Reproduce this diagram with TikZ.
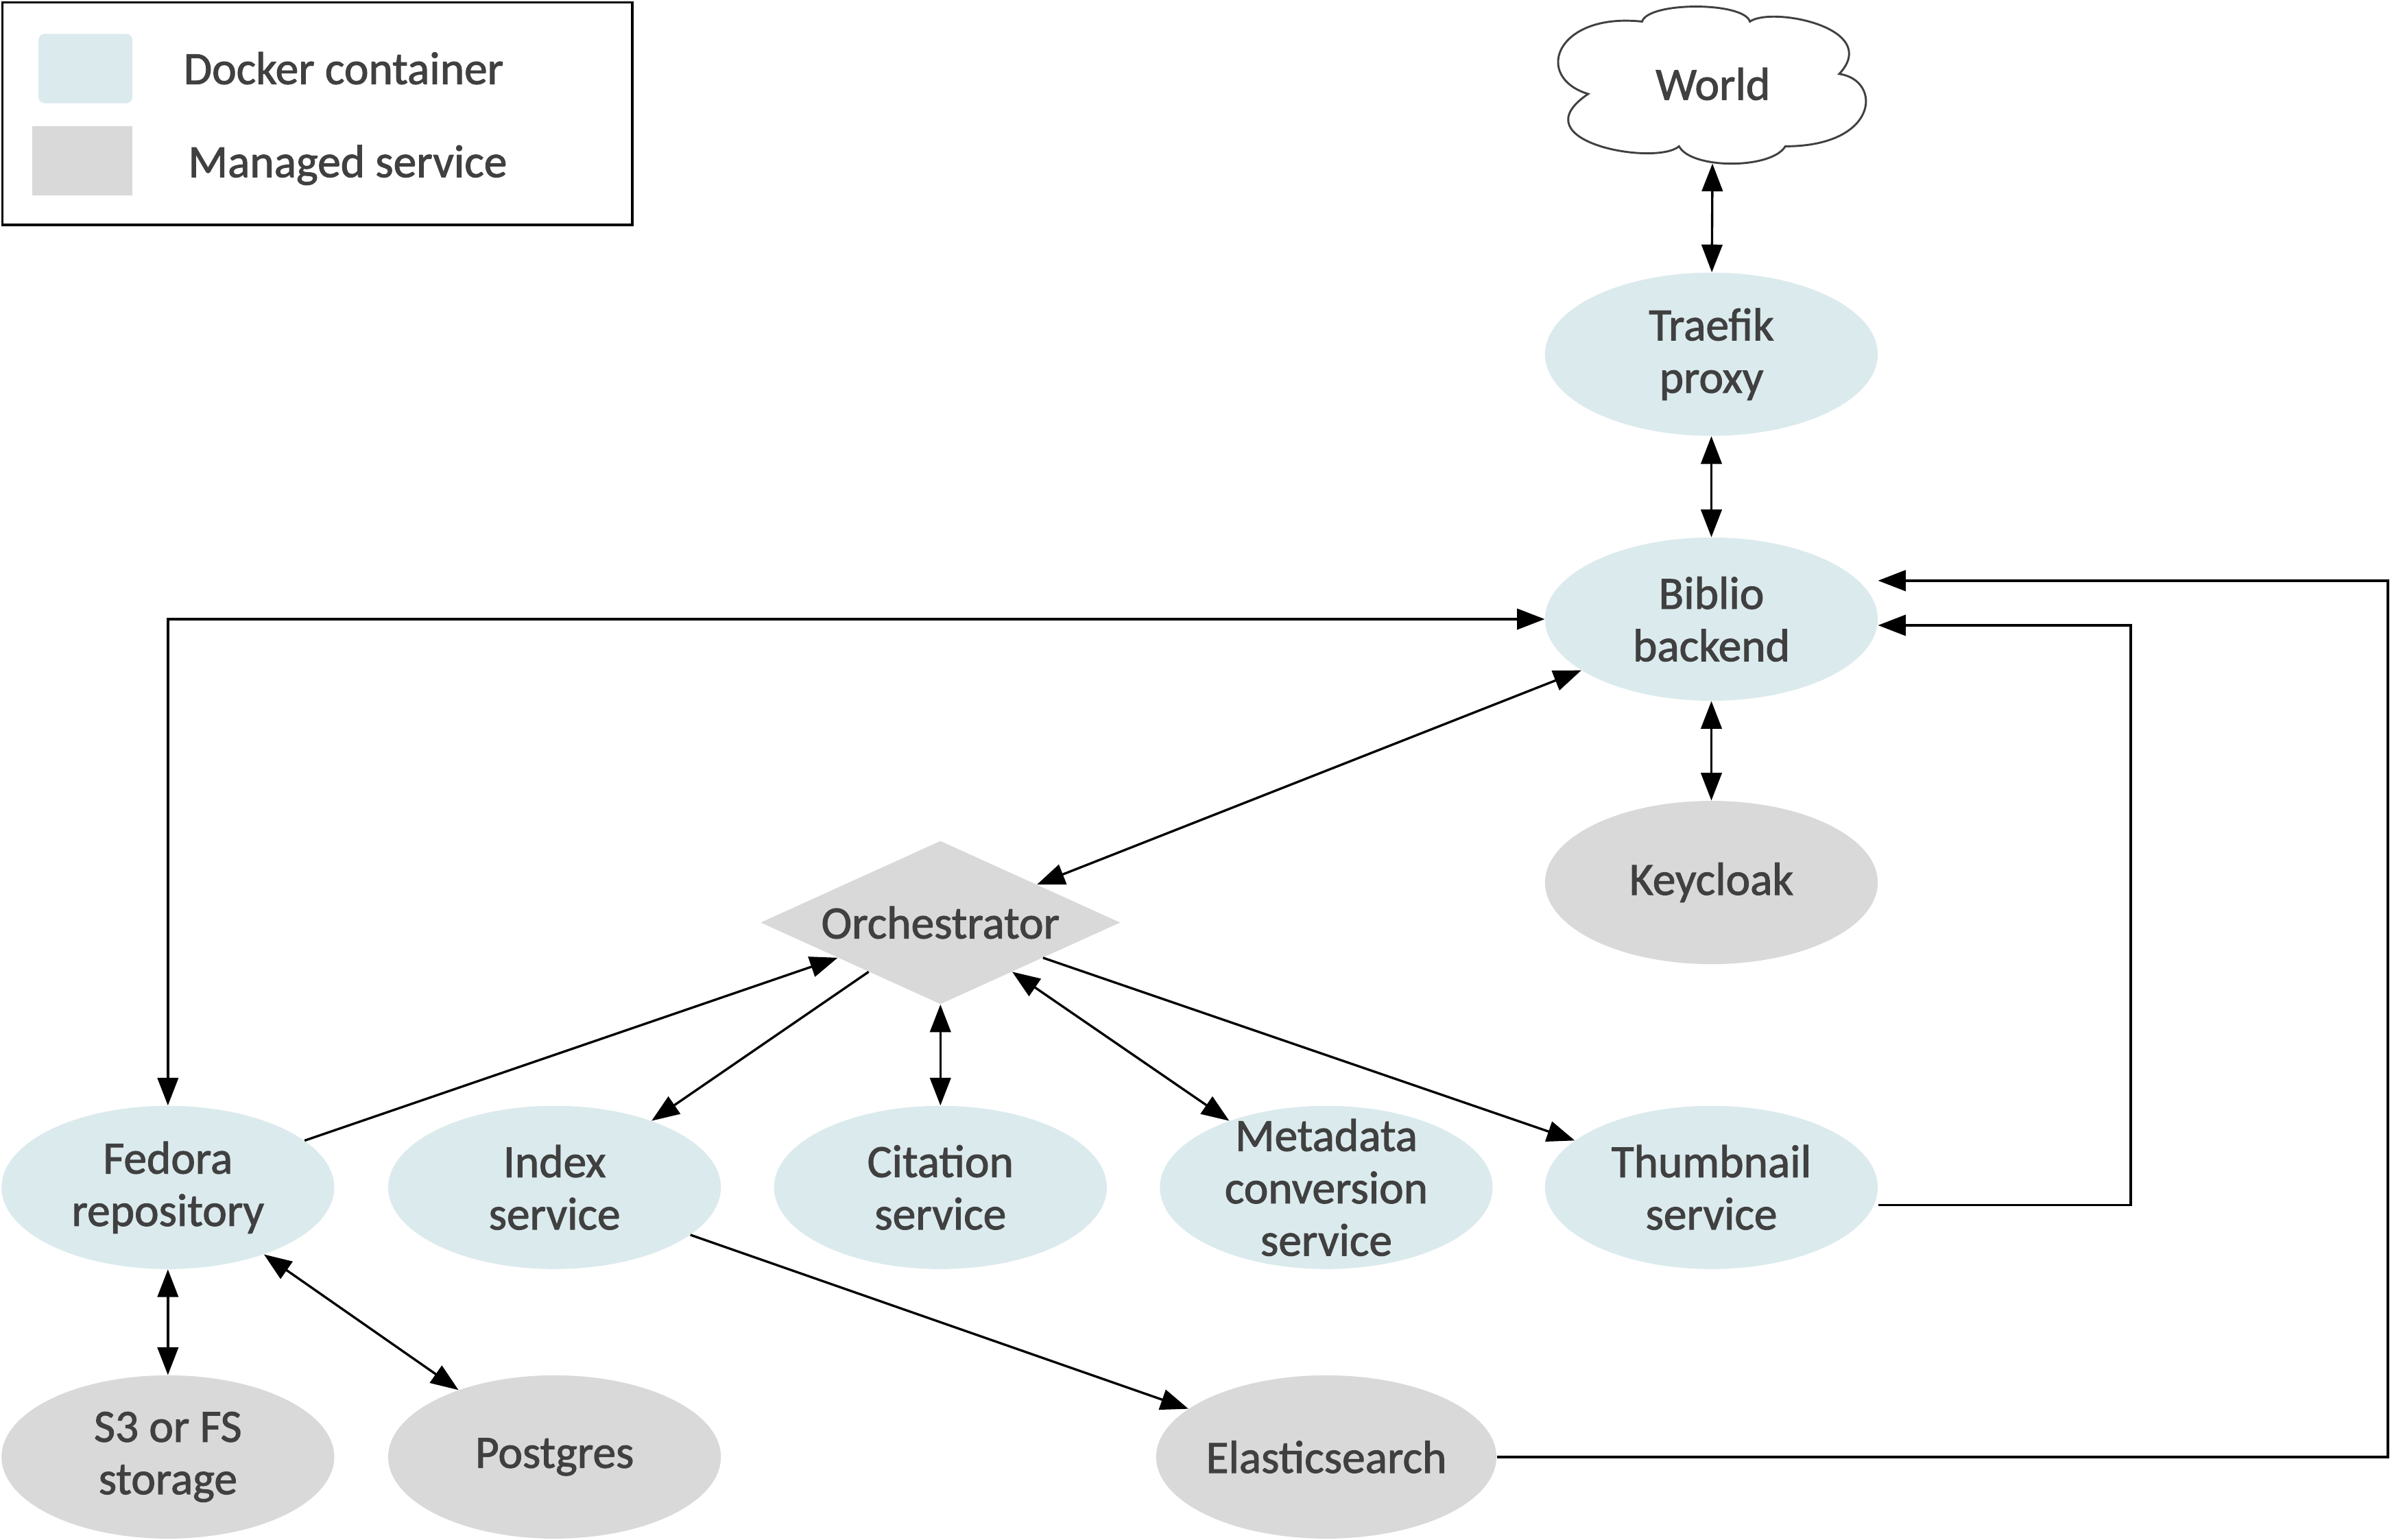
\documentclass[tikz,border=0pt]{standalone}
\usepackage{fontspec}
\setmainfont{Carlito}[FakeBold=1.5]
\usetikzlibrary{shapes.geometric,arrows.meta}
\definecolor{dockerblue}{RGB}{219,234,237}
\definecolor{managedgrey}{RGB}{217,217,217}
\definecolor{ink}{RGB}{64,64,64}

\begin{document}
\begin{tikzpicture}[x=1pt,y=-1pt,
    >={Triangle[length=18pt,width=13.5pt]},
    every node/.style={font=\fontsize{30}{34}\selectfont,text=ink,align=center,inner sep=0pt},
    svc/.style={ellipse,minimum width=216pt,minimum height=106pt},
    container/.style={svc,fill=dockerblue},
    managed/.style={svc,fill=managedgrey},
    link/.style={line width=1.5pt}]
    \useasboundingbox (0,0) rectangle (1560,999.5);
    % legend
    \draw[line width=1.5pt] (1.5,1.5) rectangle (410.5,146);
    \fill[dockerblue,rounded corners=4pt] (25,22) rectangle (86,67);
    \fill[managedgrey] (21,82) rectangle (86,127);
    \node[anchor=base west] (keydocker) at (119,54.6) {Docker container};
    \node[anchor=base west] (keymanaged) at (122,115) {Managed service};
    % world
    \draw[ink,line width=1.3pt] (1066,14) .. controls (1070,1) and (1132,1) .. (1136,14)
        .. controls (1150,4) and (1222,18) .. (1194,48)
        .. controls (1222,52) and (1220,95) .. (1159,95)
        .. controls (1150,110) and (1098,110) .. (1090,95)
        .. controls (1075,108) and (985,92) .. (1031,61)
        .. controls (995,50) and (1010,8) .. (1066,14) -- cycle;
    \node[minimum width=200pt,minimum height=103pt] (world) at (1112,54.5) {World};
    % services
    \node[container] (traefik) at (1111,230) {Traefik\\proxy};
    \node[container] (biblio) at (1111,402) {Biblio\\backend};
    \node[managed] (keycloak) at (1111,573) {Keycloak};
    \node[diamond,aspect=2.2,fill=managedgrey,minimum width=233.5pt,minimum height=106pt] (orch) at (610.5,599) {Orchestrator};
    \node[container] (fedora) at (109,771) {Fedora\\repository};
    \node[container] (index) at (360,771) {Index\\service};
    \node[container] (citation) at (610.5,771) {Citation\\service};
    \node[container,inner ysep=-10pt] (metadata) at (861,771) {Metadata\\conversion\\service};
    \node[container] (thumb) at (1111,771) {Thumbnail\\service};
    \node[managed] (storage) at (109,946) {S3 or FS\\storage};
    \node[managed] (postgres) at (360,946) {Postgres};
    \node[managed] (elastic) at (861,946) {Elasticsearch};
    % connections
    \draw[link,<->] (world) -- (traefik);
    \draw[link,<->] (traefik) -- (biblio);
    \draw[link,<->] (biblio) -- (keycloak);
    \draw[link,<->] (biblio.west) -| (fedora.north);
    \draw[link,<->] (orch) -- (biblio);
    \draw[link,->] (fedora) -- (orch);
    \draw[link,->] (orch) -- (index);
    \draw[link,<->] (orch) -- (citation);
    \draw[link,<->] (orch) -- (metadata);
    \draw[link,->] (orch) -- (thumb);
    \draw[link,->] (index) -- (elastic);
    \draw[link,<->] (fedora) -- (storage);
    \draw[link,<->] (fedora) -- (postgres);
    \draw[link,->] ([yshift=-11.5pt]thumb.east) -| ([xshift=164pt,yshift=-4pt]biblio.east) -- ([yshift=-4pt]biblio.east);
    \draw[link,->] (elastic.east) -| ([xshift=331pt,yshift=25pt]biblio.east) -- ([yshift=25pt]biblio.east);
\end{tikzpicture}
\end{document}
